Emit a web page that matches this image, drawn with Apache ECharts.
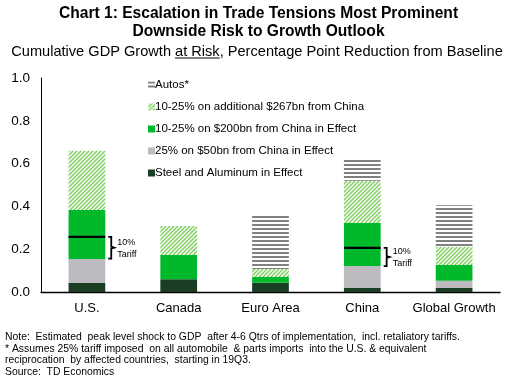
<!DOCTYPE html>
<html>
<head>
<meta charset="utf-8">
<script src="https://cdn.jsdelivr.net/npm/echarts@6/dist/echarts.min.js"></script>
<style>
html,body{margin:0;padding:0;background:#fff;}
#c{width:517px;height:385px;}
</style>
</head>
<body>
<div id="c"></div>
<script>
// ---- data ----
var categories = ['U.S.', 'Canada', 'Euro Area', 'China', 'Global Growth'];
var seriesNames = ['Steel and Aluminum in Effect', '25% on $50bn from China in Effect', '10-25% on $200bn from China in Effect', '10-25% on additional $267bn from China', 'Autos*'];
var steelAluminum = [0.043, 0.060, 0.043, 0.019, 0.019];
var china50bn     = [0.111, 0.000, 0.000, 0.102, 0.034];
var china200bn    = [0.229, 0.113, 0.027, 0.201, 0.073];
var china267bn    = [0.277, 0.135, 0.037, 0.198, 0.086];
var autos         = [0.000, 0.000, 0.248, 0.097, 0.193];
var yTicks = [0, 0.2, 0.4, 0.6, 0.8, 1.0];
var tariffCats  = ['U.S.', 'China'];
var tariffLevel = [0.258, 0.206];
var tariffBase  = [0.156, 0.121];
var tariffText  = ['10%', 'Tariff'];
var titleLines = ['Chart 1: Escalation in Trade Tensions Most Prominent', 'Downside Risk to Growth Outlook'];
var subtitleParts = ['Cumulative GDP Growth ', 'at Risk', ', Percentage Point Reduction from Baseline'];
var noteLines = [
  'Note:  Estimated  peak level shock to GDP  after 4-6 Qtrs of implementation,  incl. retaliatory tariffs.',
  '* Assumes 25% tariff imposed  on all automobile  & parts imports  into the U.S. & equivalent',
  'reciprocation  by affected countries,  starting in 19Q3.',
  'Source:  TD Economics'
];

// ---- patterns ----
function hatchPattern() {
  var c = document.createElement('canvas'); c.width = 4; c.height = 4;
  var g = c.getContext('2d');
  g.fillStyle = '#ffffff'; g.fillRect(0, 0, 4, 4);
  g.strokeStyle = '#80cf62'; g.lineWidth = 1.5;
  g.beginPath();
  g.moveTo(-1, 1); g.lineTo(1, -1);
  g.moveTo(0, 4); g.lineTo(4, 0);
  g.moveTo(3, 5); g.lineTo(5, 3);
  g.stroke();
  return { image: c, repeat: 'repeat' };
}
function stripePattern() {
  var c = document.createElement('canvas'); c.width = 4; c.height = 4;
  var g = c.getContext('2d');
  g.fillStyle = '#ffffff'; g.fillRect(0, 0, 4, 4);
  g.fillStyle = '#808080'; g.fillRect(0, 0, 4, 2);
  return { image: c, repeat: 'repeat' };
}

var FONT = 'Arial, "Liberation Sans", sans-serif';
var chart = echarts.init(document.getElementById('c'), null, { renderer: 'canvas' });

// measure subtitle parts for underline placement
var mc = document.createElement('canvas').getContext('2d');
var subFont = '14.6px "Liberation Sans", Arial, sans-serif';
mc.font = subFont;
var w0 = mc.measureText(subtitleParts[0]).width;
var w1 = mc.measureText(subtitleParts[1]).width;
var wAll = mc.measureText(subtitleParts.join('')).width;
var subStart = 257 - wAll / 2;

var barColors = ['#1a3d23', '#bdbbc0', '#00b92a', hatchPattern(), stripePattern()];
var values = [steelAluminum, china50bn, china200bn, china267bn, autos];

var series = seriesNames.map(function (n, i) {
  return {
    name: n, type: 'bar', stack: 'total', barWidth: '40%',
    data: values[i],
    itemStyle: { color: barColors[i] },
    emphasis: { disabled: true },
    silent: true
  };
});

series.push({
  type: 'custom', name: 'tariff', silent: true, z: 10,
  data: tariffCats.map(function (c, i) { return [c, tariffLevel[i], tariffBase[i]]; }),
  encode: { x: 0, y: 1 },
  renderItem: function (params, api) {
    var top = api.coord([api.value(0), api.value(1)]);
    var bot = api.coord([api.value(0), api.value(2)]);
    var band = api.size([1, 0])[0];
    var bw = band * 0.4;
    var xl = top[0] - bw / 2, xr = top[0] + bw / 2;
    var y1 = top[1], y2 = bot[1], ym = (y1 + y2) / 2;
    var bx = xr + 3;
    return {
      type: 'group',
      children: [
        { type: 'line', shape: { x1: xl, y1: y1, x2: xr, y2: y1 }, style: { stroke: '#000', lineWidth: 2.2 } },
        { type: 'polyline', shape: { points: [[bx, y1], [bx + 3, y1], [bx + 3, ym - 1], [bx + 6, ym], [bx + 3, ym + 1], [bx + 3, y2], [bx, y2]] },
          style: { stroke: '#000', lineWidth: 1.8, fill: null } },
        { type: 'text', x: bx + 9, y: ym - 5, style: { text: tariffText[0], font: '9px ' + FONT, fill: '#000', verticalAlign: 'middle' } },
        { type: 'text', x: bx + 9, y: ym + 7, style: { text: tariffText[1], font: '9px ' + FONT, fill: '#000', verticalAlign: 'middle' } }
      ]
    };
  }
});

var graphics = [
  { type: 'text', left: 'center', top: 6, style: { text: titleLines[0], font: 'bold 15.6px ' + FONT, fill: '#000' } },
  { type: 'text', left: 'center', top: 24, style: { text: titleLines[1], font: 'bold 15.6px ' + FONT, fill: '#000' } },
  { type: 'text', x: subStart, y: 44, style: { text: subtitleParts.join(''), font: subFont, fill: '#000' } },
  { type: 'line', shape: { x1: subStart + w0, y1: 58, x2: subStart + w0 + w1, y2: 58 }, style: { stroke: '#000', lineWidth: 1 } }
];
noteLines.forEach(function (t, i) {
  graphics.push({ type: 'text', x: 5, y: 332 + i * 11.8, style: { text: t, font: '10.4px ' + FONT, fill: '#000' } });
});

chart.setOption({
  animation: false,
  backgroundColor: '#fff',
  grid: { left: 41, right: 17, top: 78, bottom: 93, containLabel: false },
  legend: {
    orient: 'vertical', left: 143, top: 74,
    data: seriesNames.slice().reverse(),
    itemWidth: 7, itemHeight: 7, itemGap: 10,
    icon: 'rect',
    selectedMode: false,
    textStyle: { fontFamily: FONT, fontSize: 11.5, color: '#000', padding: [0, 0, 0, -5] }
  },
  xAxis: {
    type: 'category', data: categories,
    axisLine: { lineStyle: { color: '#000', width: 1.3 } },
    axisTick: { show: false },
    axisLabel: { fontFamily: FONT, fontSize: 13, color: '#000', margin: 10, interval: 0, hideOverlap: false }
  },
  yAxis: {
    type: 'value', min: yTicks[0], max: yTicks[yTicks.length - 1], interval: 0.2,
    axisLine: { show: true, lineStyle: { color: '#000', width: 1 } },
    axisTick: { show: false },
    splitLine: { show: false },
    axisLabel: { fontFamily: FONT, fontSize: 13.5, color: '#000', margin: 11, formatter: function (v) { return v.toFixed(1); } }
  },
  graphic: graphics,
  series: series
});
</script>
</body>
</html>
